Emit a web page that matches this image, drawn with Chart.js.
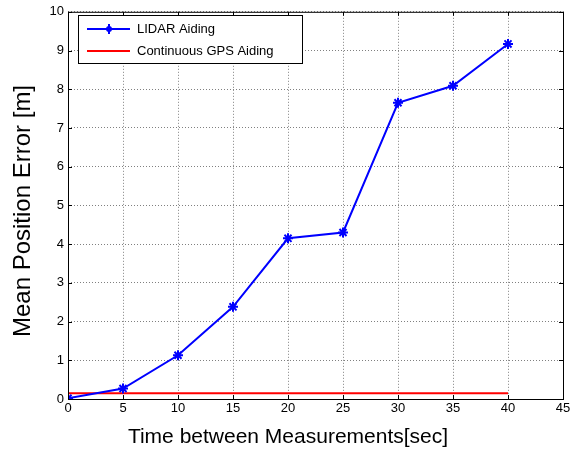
<!DOCTYPE html>
<html>
<head>
<meta charset="utf-8">
<script src="https://cdn.jsdelivr.net/npm/chart.js@4"></script>
<style>
  body { margin: 0; background: #fff; }
  #wrap { width: 575px; height: 452px; }
</style>
</head>
<body>
<div id="wrap"><canvas id="chart" width="575" height="452"></canvas></div>
<script>
// valores
const times = [0, 5, 10, 15, 20, 25, 30, 35, 40];
const lidarError = [0.02, 0.27, 1.13, 2.38, 4.15, 4.3, 7.65, 8.09, 9.17];
const gpsError = [0.15, 0.15, 0.15, 0.15, 0.15, 0.15, 0.15, 0.15, 0.15];
const xTicks = [0, 5, 10, 15, 20, 25, 30, 35, 40, 45];
const yTicks = [0, 1, 2, 3, 4, 5, 6, 7, 8, 9, 10];
const seriesNames = ["LIDAR Aiding", "Continuous GPS Aiding"];
const xTitle = "Time between Measurements[sec]";
const yTitle = "Mean Position Error [m]";

const FONT = "Arial, 'Liberation Sans', sans-serif";

// caja de ejes, titulos y leyenda dentro del area
const boxPlugin = {
  id: "boxPlugin",
  afterDraw(chart) {
    const ctx = chart.ctx;
    const a = chart.chartArea;
    const xs = chart.scales.x, ys = chart.scales.y;
    ctx.save();
    ctx.strokeStyle = "#000";
    ctx.lineWidth = 1;
    ctx.strokeRect(a.left + 0.5, a.top + 0.5, a.right - a.left, a.bottom - a.top);
    // marcas de tick hacia adentro
    ctx.beginPath();
    xTicks.forEach(v => {
      const px = Math.round(xs.getPixelForValue(v)) + 0.5;
      ctx.moveTo(px, a.bottom); ctx.lineTo(px, a.bottom - 4);
      ctx.moveTo(px, a.top); ctx.lineTo(px, a.top + 4);
    });
    yTicks.forEach(v => {
      const py = Math.round(ys.getPixelForValue(v)) + 0.5;
      ctx.moveTo(a.left, py); ctx.lineTo(a.left + 4, py);
      ctx.moveTo(a.right, py); ctx.lineTo(a.right - 4, py);
    });
    ctx.stroke();

    // titulos de ejes
    ctx.fillStyle = "#000";
    ctx.textAlign = "center";
    ctx.textBaseline = "middle";
    ctx.font = "21px " + FONT;
    ctx.fillText(xTitle, 288, 437);
    ctx.save();
    ctx.translate(23, 211);
    ctx.rotate(-Math.PI / 2);
    ctx.font = "24px " + FONT;
    ctx.fillText(yTitle, 0, 0);
    ctx.restore();

    // leyenda
    const lx = 78, ly = 15, lw = 224, lh = 48;
    ctx.textAlign = "left";
    ctx.fillStyle = "#fff";
    ctx.fillRect(lx, ly, lw, lh);
    ctx.strokeRect(lx + 0.5, ly + 0.5, lw, lh);
    ctx.font = "13px " + FONT;
    ctx.lineWidth = 2;
    ctx.strokeStyle = "#0000ff";
    ctx.beginPath(); ctx.moveTo(87, 29); ctx.lineTo(130, 29); ctx.stroke();
    ctx.fillStyle = "#0000ff";
    ctx.beginPath(); ctx.arc(109, 29, 3, 0, Math.PI * 2); ctx.fill();
    ctx.beginPath(); ctx.moveTo(109, 24); ctx.lineTo(109, 34); ctx.stroke();
    ctx.strokeStyle = "#ff0000";
    ctx.beginPath(); ctx.moveTo(87, 51); ctx.lineTo(130, 51); ctx.stroke();
    ctx.fillStyle = "#000";
    ctx.fillText(seriesNames[0], 137, 29);
    ctx.fillText(seriesNames[1], 137, 51);
    ctx.restore();
  }
};

new Chart(document.getElementById("chart"), {
  type: "line",
  data: {
    datasets: [
      {
        label: seriesNames[0],
        data: times.map((t, i) => ({ x: t, y: lidarError[i] })),
        borderColor: "#0000ff",
        backgroundColor: "#0000ff",
        borderWidth: 2,
        pointStyle: "star",
        pointRadius: 5,
        pointBorderWidth: 2,
        tension: 0,
        fill: false
      },
      {
        label: seriesNames[1],
        data: times.map((t, i) => ({ x: t, y: gpsError[i] })),
        borderColor: "#ff0000",
        backgroundColor: "#ff0000",
        borderWidth: 2,
        pointRadius: 0,
        tension: 0,
        fill: false
      }
    ]
  },
  options: {
    responsive: false,
    animation: false,
    layout: { padding: { top: 10, right: 12, left: 0, bottom: 0 } },
    plugins: { legend: { display: false }, tooltip: { enabled: false } },
    scales: {
      x: {
        type: "linear",
        min: 0, max: 45,
        afterBuildTicks: s => { s.ticks = xTicks.map(v => ({ value: v })); },
        afterFit: s => { s.height = 53; },
        ticks: { color: "#000", font: { family: FONT, size: 13 }, padding: 2, maxRotation: 0 },
        grid: { color: "#808080", lineWidth: 1, drawTicks: false },
        border: { display: false, dash: [1, 2] },
        title: { display: false }
      },
      y: {
        min: 0, max: 10,
        afterBuildTicks: s => { s.ticks = yTicks.map(v => ({ value: v })); },
        afterFit: s => { s.width = 68; },
        ticks: { color: "#000", font: { family: FONT, size: 13 }, padding: 4 },
        grid: { color: "#808080", lineWidth: 1, drawTicks: false },
        border: { display: false, dash: [1, 2] },
        title: { display: false }
      }
    }
  },
  plugins: [boxPlugin]
});
</script>
</body>
</html>
